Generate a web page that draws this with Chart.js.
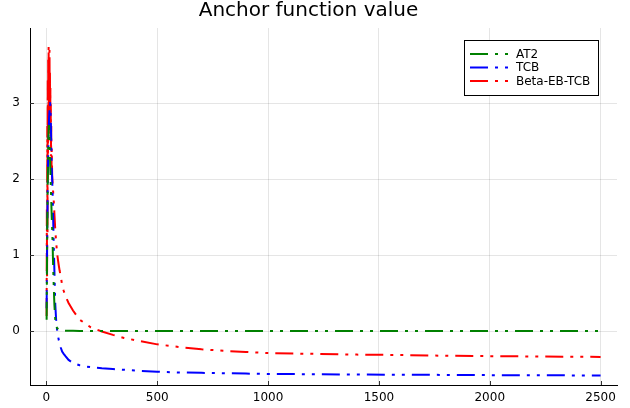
<!DOCTYPE html>
<html>
<head>
<meta charset="utf-8">
<script src="https://cdn.jsdelivr.net/npm/chart.js@4/dist/chart.umd.min.js"></script>
<style>
    html, body { margin: 0; padding: 0; background: #fff; }
    #wrap { width: 630px; height: 408px; }
</style>
</head>
<body>
<div id="wrap"><canvas id="anchor-chart" width="630" height="408"></canvas></div>
<script>
// Iterations (shared x values)
const iters = [
    1, 2, 3, 4, 5, 6, 7, 8, 9, 10, 11, 12, 13, 14, 15, 16, 17, 18, 19, 20, 21, 22, 23, 24,
    26, 28, 30, 33, 36, 40, 44, 48, 52, 56, 60, 65, 71, 78, 86, 100, 120, 150, 175, 200,
    250, 300, 350, 400, 500, 600, 700, 800, 900, 1000, 1200, 1400, 1600, 1800, 2000, 2250, 2500
];

// Series values
const at2 = [
    0.15, 0.6, 1.0, 1.4, 1.7, 2.0, 2.2, 2.4, 2.55, 2.65, 2.7, 2.7, 2.65, 2.55, 2.45, 2.35, 2.2, 2.1, 2.0, 1.9, 1.8, 1.7, 1.6, 1.5,
    1.35, 1.15, 0.9, 0.6, 0.35, 0.15, 0.07, 0.04, 0.03, 0.02, 0.015, 0.01, 0.008, 0.006, 0.005, 0.004, 0.003, 0.002, 0.002, 0.001,
    0.001, 0.001, 0.001, 0.001, 0, 0, 0, 0, 0, 0, 0, 0, 0, 0, 0, 0, 0
];
const tcb = [
    0.3, 0.7, 1.0, 1.4, 1.6, 1.9, 2.1, 2.3, 2.45, 2.6, 2.7, 2.8, 2.85, 2.9, 2.95, 3.0, 3.0, 2.95, 2.85, 2.75, 2.6, 2.45, 2.3, 2.15,
    2.0, 1.8, 1.55, 1.15, 0.8, 0.35, 0.14, 0.02, -0.06, -0.12, -0.17, -0.22, -0.27, -0.3, -0.33, -0.38, -0.42, -0.45, -0.465, -0.475,
    -0.49, -0.5, -0.51, -0.52, -0.535, -0.545, -0.55, -0.555, -0.56, -0.565, -0.568, -0.572, -0.575, -0.577, -0.58, -0.582, -0.585
];
const betaEbTcb = [
    0.2, 1.6, 0.7, 2.7, 1.3, 3.3, 2.0, 3.6, 2.5, 3.75, 2.8, 3.55, 3.0, 3.7, 2.9, 3.4, 2.6, 3.2, 2.5, 3.0, 2.3, 2.7, 2.15, 2.4,
    2.05, 1.95, 1.85, 1.72, 1.55, 1.33, 1.17, 1.03, 0.94, 0.86, 0.79, 0.72, 0.6, 0.53, 0.46, 0.37, 0.27, 0.15, 0.1, 0.05,
    -0.005, -0.05, -0.09, -0.12, -0.175, -0.21, -0.24, -0.26, -0.275, -0.29, -0.30, -0.31, -0.315, -0.325, -0.33, -0.335, -0.34
];

const seriesNames = ['AT2', 'TCB', 'Beta-EB-TCB'];
const seriesColors = ['#008000', '#0000ff', '#ff0000'];
const xTicks = [0, 500, 1000, 1500, 2000, 2500];
const yTicks = [0, 1, 2, 3];

const dashPattern = [18, 7, 3, 7, 3, 7];
const fontFamily = '"DejaVu Sans", sans-serif';

function toPoints(values) {
    return iters.map((x, i) => ({ x: x, y: values[i] }));
}

// Inner tick marks + framed legend, drawn on top of the chart
const decorPlugin = {
    id: 'decor',
    afterDraw(chart) {
        const ctx = chart.ctx;
        const area = chart.chartArea;
        const xs = chart.scales.x;
        const ys = chart.scales.y;

        ctx.save();
        ctx.strokeStyle = '#333';
        ctx.lineWidth = 1;
        ctx.beginPath();
        xTicks.forEach(v => {
            const px = Math.round(xs.getPixelForValue(v)) + 0.5;
            ctx.moveTo(px, area.bottom);
            ctx.lineTo(px, area.bottom - 4);
        });
        yTicks.forEach(v => {
            const py = Math.round(ys.getPixelForValue(v)) + 0.5;
            ctx.moveTo(area.left, py);
            ctx.lineTo(area.left + 4, py);
        });
        ctx.stroke();

        // legend box
        ctx.fillStyle = '#fff';
        ctx.fillRect(464, 40, 134, 55);
        ctx.strokeStyle = '#000';
        ctx.strokeRect(464.5, 40.5, 134, 55);

        const rows = [54, 67.5, 81];
        ctx.font = '12px ' + fontFamily;
        ctx.textBaseline = 'middle';
        ctx.textAlign = 'left';
        seriesNames.forEach((name, i) => {
            ctx.strokeStyle = seriesColors[i];
            ctx.lineWidth = 2;
            ctx.setLineDash(dashPattern);
            ctx.beginPath();
            ctx.moveTo(470, rows[i]);
            ctx.lineTo(510, rows[i]);
            ctx.stroke();
            ctx.setLineDash([]);
            ctx.fillStyle = '#000';
            ctx.fillText(name, 516, rows[i] + 0.5);
        });
        ctx.restore();
    }
};

const ctx = document.getElementById('anchor-chart').getContext('2d');
const anchorChart = new Chart(ctx, {
    type: 'scatter',
    data: {
        datasets: [at2, tcb, betaEbTcb].map((vals, i) => ({
            label: seriesNames[i],
            data: toPoints(vals),
            showLine: true,
            borderColor: seriesColors[i],
            backgroundColor: seriesColors[i],
            borderWidth: 2,
            borderDash: dashPattern,
            pointRadius: 0,
            tension: 0
        }))
    },
    options: {
        responsive: false,
        animation: false,
        devicePixelRatio: 1,
        layout: { padding: { left: 0, right: 13, top: 0, bottom: 0 } },
        plugins: {
            legend: { display: false },
            tooltip: { enabled: false },
            title: {
                display: true,
                text: 'Anchor function value',
                color: '#000',
                font: { family: fontFamily, size: 20, weight: 'normal', lineHeight: 1 },
                padding: { top: 1, bottom: 7 }
            }
        },
        scales: {
            x: {
                type: 'linear',
                min: -74,
                max: 2574,
                afterBuildTicks: scale => { scale.ticks = xTicks.map(v => ({ value: v })); },
                afterFit: scale => { scale.height = 23; },
                grid: { color: 'rgba(0,0,0,0.1)', drawTicks: false },
                border: { display: true, color: '#000', width: 1 },
                ticks: {
                    color: '#000',
                    padding: 6,
                    maxRotation: 0,
                    font: { family: fontFamily, size: 12 },
                    callback: v => String(v)
                }
            },
            y: {
                type: 'linear',
                min: -0.71,
                max: 3.99,
                afterBuildTicks: scale => { scale.ticks = yTicks.map(v => ({ value: v })); },
                afterFit: scale => { scale.width = 30; },
                grid: { color: 'rgba(0,0,0,0.1)', drawTicks: false },
                border: { display: true, color: '#000', width: 1 },
                ticks: {
                    color: '#000',
                    padding: 10,
                    font: { family: fontFamily, size: 12 },
                    callback: v => String(v)
                }
            }
        }
    },
    plugins: [decorPlugin]
});
</script>
</body>
</html>
